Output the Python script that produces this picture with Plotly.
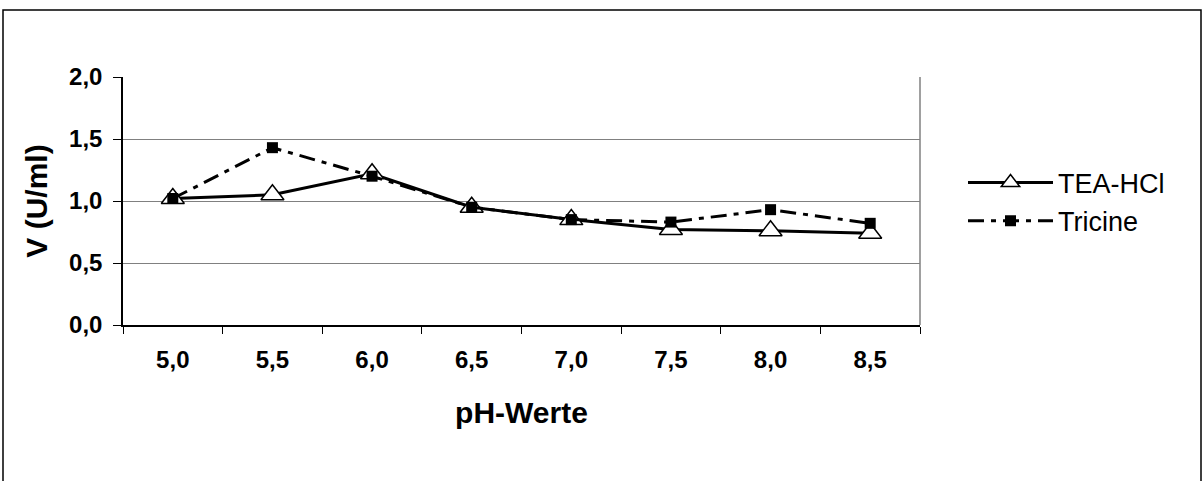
import plotly.graph_objects as go

ph_labels = ["5,0", "5,5", "6,0", "6,5", "7,0", "7,5", "8,0", "8,5"]
tea_hcl = [1.02, 1.05, 1.22, 0.95, 0.85, 0.77, 0.76, 0.74]
tricine = [1.02, 1.43, 1.20, 0.95, 0.85, 0.83, 0.93, 0.82]

FONT = "Arial, Liberation Sans, sans-serif"

fig = go.Figure()
fig.add_trace(go.Scatter(
    x=ph_labels, y=tea_hcl, name="TEA-HCl", mode="lines+markers",
    line=dict(color="black", width=3),
    marker=dict(symbol="triangle-up", size=20, color="white",
                line=dict(color="black", width=1.5)),
))
fig.add_trace(go.Scatter(
    x=ph_labels, y=tricine, name="Tricine", mode="lines+markers",
    line=dict(color="black", width=3, dash="16px,7px,5px,7px"),
    marker=dict(symbol="square", size=11, color="black",
                line=dict(color="black", width=0)),
))

W, H = 1204, 481
L, R, T, B = 123, 920, 77, 325
pw, ph = R - L, B - T

def px(x):
    return (x - L) / pw

def py(y):
    return (B - y) / ph

fig.update_layout(
    width=W, height=H,
    margin=dict(l=L, r=W - R, t=T, b=H - B, pad=0),
    paper_bgcolor="white", plot_bgcolor="white",
    separators=",.",
    font=dict(family=FONT, color="black"),
    showlegend=True,
    legend=dict(
        x=px(963), y=py(202), xanchor="left", yanchor="middle",
        font=dict(family=FONT, size=27, color="black"),
        bgcolor="rgba(0,0,0,0)", borderwidth=0,
        itemwidth=85, tracegroupgap=0,
    ),
    xaxis=dict(
        type="category", range=[-0.5, 7.5],
        showgrid=False, showline=True, linecolor="black", linewidth=1.5,
        ticks="outside", tickson="boundaries", ticklen=7, tickcolor="black",
        tickwidth=1, ticklabelstandoff=12,
        tickfont=dict(family=FONT, size=24, color="black", weight="bold"),
        title=dict(text="<b>pH-Werte</b>", font=dict(family=FONT, size=30),
                   standoff=30),
        mirror=False,
    ),
    yaxis=dict(
        range=[0, 2], dtick=0.5, tickformat=".1f",
        showgrid=True, gridcolor="#808080", gridwidth=1,
        showline=True, linecolor="black", linewidth=1.5,
        ticks="outside", ticklen=8, tickcolor="black", tickwidth=1,
        ticklabelstandoff=6,
        tickfont=dict(family=FONT, size=24, color="black", weight="bold"),
        title=dict(text="<b>V (U/ml)</b>", font=dict(family=FONT, size=30),
                   standoff=13),
        zeroline=False,
    ),
    shapes=[
        dict(type="line", xref="paper", yref="paper", x0=1, x1=1, y0=0, y1=1,
             line=dict(color="#808080", width=1.5)),
        dict(type="rect", xref="paper", yref="paper",
             x0=px(3), x1=px(1201), y0=py(495), y1=py(10),
             line=dict(color="black", width=1.5), fillcolor="rgba(0,0,0,0)",
             layer="below"),
    ],
)

fig.write_html("out.html")
